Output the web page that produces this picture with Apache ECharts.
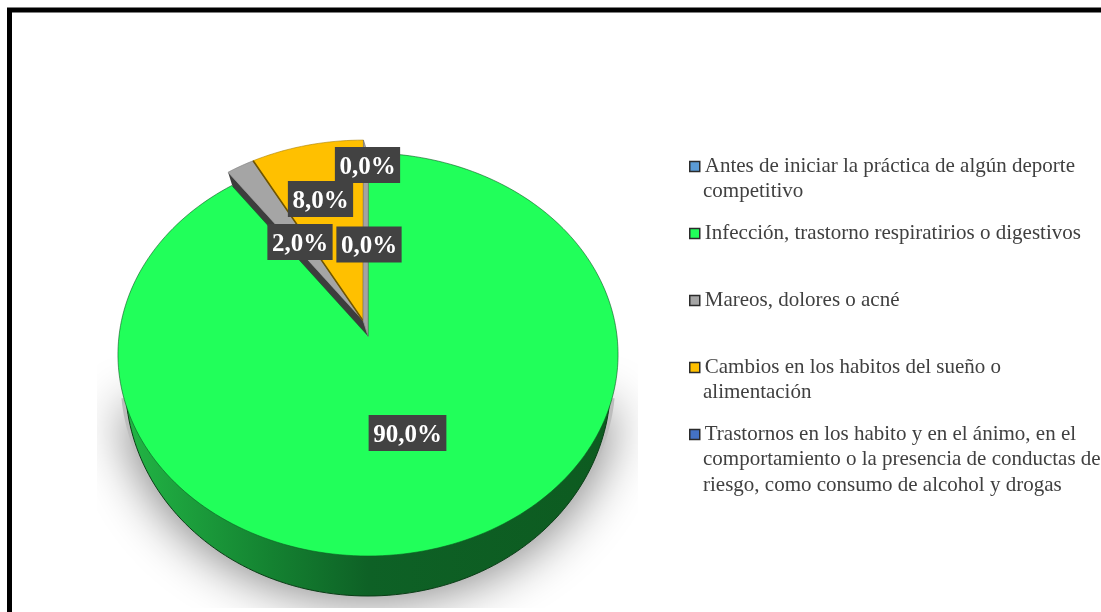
<!DOCTYPE html>
<html>
<head>
<meta charset="utf-8">
<style>html,body{margin:0;padding:0;background:#fff}#c{width:1101px;height:612px}</style>
<script src="https://cdn.jsdelivr.net/npm/echarts@6/dist/echarts.min.js"></script>
</head>
<body>
<div id="c"></div>
<script>
// ---- data ----
const categories = [
  'Antes de iniciar la práctica de algún deporte',
  'Infección, trastorno respiratirios o digestivos',
  'Mareos, dolores o acné',
  'Cambios en los habitos del sueño o',
  'Trastornos en los habito y en el ánimo, en el'
];
const categoryContinuations = [
  ['competitivo'],
  [],
  [],
  ['alimentación'],
  ['comportamiento o la presencia de conductas de', 'riesgo, como consumo de alcohol y drogas']
];
const values = [0, 90, 2, 8, 0];
const colors = ['#5b9bd5', '#21ff5a', '#a5a5a5', '#ffc000', '#4472c4'];

// ---- layout (not data) ----
const FONT = '"Liberation Serif","Times New Roman",serif';
const X0 = 368, Y0 = 336, B = 249, A = 199.8, K = 0.0918;
const explodeOffset = [[0, 0], [0, 0], [-0.02, 0.0775], [-0.02, 0.0775], [0, 0]];
const labelCenters = [[369, 244.5], [407.5, 433], [300, 242], [320.5, 199], [367.5, 165]];
const LEGEND_STEP = 67, LEGEND_LINE = 26, LEGEND_TOP_CENTER = 165;

const total = values.reduce((a, b) => a + b, 0);
let run = 0;
const starts = values.map(v => { const s = run; run += v; return s; });

function topPt(u, v) {
  const d = 1 + K * v;
  return [X0 + B * u / d, Y0 - A * v / d];
}
function lowPt(u, v) {
  const d = 1 + K * v;
  return [X0 + 0.97 * B * u / d, Y0 - A * v / d + 28 - 12 * v];
}
function arc(a0, a1, ox, oy, fn) {
  const pts = [];
  const n = Math.max(2, Math.ceil(Math.abs(a1 - a0) / 1.5));
  for (let i = 0; i <= n; i++) {
    const a = (a0 + (a1 - a0) * i / n) * Math.PI / 180;
    pts.push(fn(Math.sin(a) + ox, Math.cos(a) + oy));
  }
  return pts;
}
const poly = (points, style, z2, extra) => Object.assign({
  type: 'polygon', shape: { points }, style, z2, silent: true
}, extra || {});

function renderSlice(idx) {
  return function (params, api) {
    const start = api.value(0), val = api.value(1);
    const a0 = start / total * 360, a1 = (start + val) / total * 360;
    const children = [];
    const col = colors[idx];
    if (val > 0) {
      const ox = explodeOffset[idx][0], oy = explodeOffset[idx][1];
      const apex = topPt(ox, oy);
      const rim = arc(a0, a1, ox, oy, topPt);
      if (idx === 1) {
        const lowRim = arc(a0, a1, 0, 0, lowPt);
        // soft shadow on the front half, its casting shape hidden behind the pie
        const front = arc(100, 260, 0, 0, lowPt).map(p => [X0 + (p[0] - X0) * 1.02, p[1] - 3]);
        children.push(poly(front, {
          fill: '#bdbdbd', shadowBlur: 50, shadowColor: 'rgba(0,0,0,0.48)', shadowOffsetY: 8
        }, 1, { clipPath: { type: 'rect', shape: { x: 97, y: 0, width: 541, height: 608 } } }));
        children.push(poly([lowPt(0, 0)].concat(lowRim), {
          fill: new echarts.graphic.LinearGradient(0, 0, 1, 0, [
            { offset: 0, color: '#22b545' },
            { offset: 0.3, color: '#148231' },
            { offset: 0.5, color: '#0e6126' },
            { offset: 1, color: '#0d5b20' }
          ]),
          stroke: '#0a3d16', lineWidth: 1
        }, 2));
        children.push(poly([apex].concat(rim), {
          fill: col, stroke: '#0b5a22', lineWidth: 0.6
        }, 10));
      } else {
        const p = rim[0];
        if (idx === 2) {
          // dark cut face beside the raised slice
          children.push(poly([apex, p, [p[0] + 5, p[1] + 16], [apex[0] + 5, apex[1] + 16]], {
            fill: '#3d3d3d'
          }, 5));
        }
        children.push(poly([apex].concat(rim), {
          fill: col, stroke: idx === 2 ? '#7f7f7f' : '#a98000', lineWidth: 0.6
        }, 15 + idx));
        if (idx === 3) {
          children.push({
            type: 'polyline', shape: { points: [apex, p] }, z2: 19, silent: true,
            style: { fill: 'none', stroke: '#6f5400', lineWidth: 1.6 }
          });
          const e = rim[rim.length - 1];
          children.push(poly([apex, e, [e[0] + 5, e[1] + 16], [apex[0] + 5, apex[1] + 16]], {
            fill: '#a3a3a3', stroke: '#6d6d6d', lineWidth: 0.6
          }, 20));
        }
      }
    }
    const c = labelCenters[idx];
    children.push({
      type: 'text', x: c[0], y: c[1] - 18, z2: 40, silent: true,
      style: {
        text: val.toFixed(1).replace('.', ',') + '%',
        font: 'bold 25px ' + FONT, fill: '#fff', align: 'center', verticalAlign: 'top',
        backgroundColor: '#424242', padding: [8, 4.5, 3, 4.5],
        boxShadowBlur: 4, boxShadowOffsetX: 2, boxShadowOffsetY: 2, boxShadowColor: 'rgba(0,0,0,0.55)'
      }
    });
    return { type: 'group', children };
  };
}

const series = categories.map((name, i) => ({
  type: 'custom',
  name,
  coordinateSystem: 'none',
  itemStyle: { color: colors[i] },
  data: [[starts[i], values[i]]],
  renderItem: renderSlice(i),
  animation: false,
  clip: false
}));

const extraText = [];
categoryContinuations.forEach((lines, i) => lines.forEach((t, j) => {
  extraText.push({
    type: 'text', x: 703, y: LEGEND_TOP_CENTER + i * LEGEND_STEP + (j + 1) * LEGEND_LINE,
    style: { text: t, font: '21px ' + FONT, fill: '#404040', verticalAlign: 'middle', align: 'left' }
  });
}));

const chart = echarts.init(document.getElementById('c'), null, { renderer: 'canvas' });
chart.setOption({
  animation: false,
  backgroundColor: '#fff',
  legend: {
    data: categories,
    orient: 'vertical',
    left: 689,
    top: 156,
    padding: 0,
    itemWidth: 10,
    itemHeight: 10,
    itemGap: 46,
    icon: 'rect',
    selectedMode: false,
    itemStyle: { borderColor: '#2b2b2b', borderWidth: 1.5 },
    textStyle: { fontFamily: FONT, fontSize: 21, color: '#404040' }
  },
  graphic: extraText.concat([{
    type: 'rect', z: 100, silent: true,
    shape: { x: 9.5, y: 10, width: 1300, height: 800 },
    style: { fill: 'none', stroke: '#000', lineWidth: 5 }
  }]),
  series
});
</script>
</body>
</html>
